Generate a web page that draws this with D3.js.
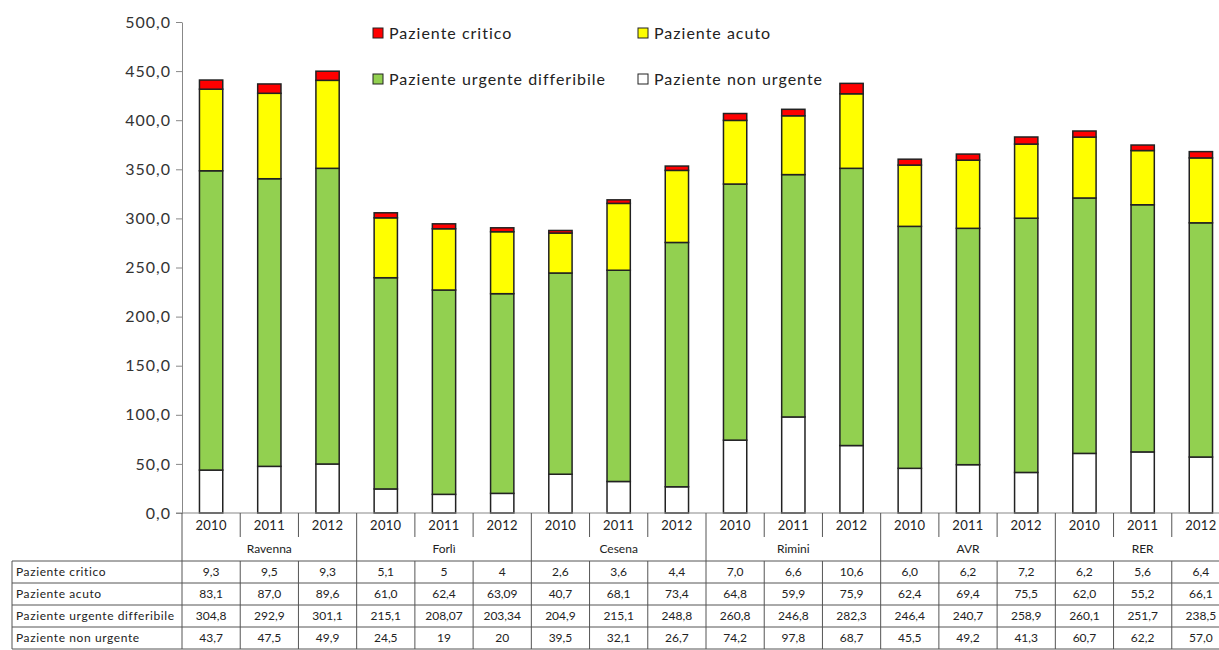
<!DOCTYPE html>
<html>
<head>
<meta charset="utf-8">
<script src="https://cdn.jsdelivr.net/npm/d3@7"></script>
<style>
  body { margin: 0; background: #fff; }
  text { font-family: Lato, "Liberation Sans", sans-serif; fill: #222; }
</style>
</head>
<body>
<div id="chart"></div>
<script>
// data, as written in the table under the chart
var regions = ["Ravenna", "Forlì", "Cesena", "Rimini", "AVR", "RER"];
var years = ["2010", "2011", "2012"];
var critico  = ["9,3","9,5","9,3", "5,1","5","4", "2,6","3,6","4,4", "7,0","6,6","10,6", "6,0","6,2","7,2", "6,2","5,6","6,4"];
var acuto    = ["83,1","87,0","89,6", "61,0","62,4","63,09", "40,7","68,1","73,4", "64,8","59,9","75,9", "62,4","69,4","75,5", "62,0","55,2","66,1"];
var urgente  = ["304,8","292,9","301,1", "215,1","208,07","203,34", "204,9","215,1","248,8", "260,8","246,8","282,3", "246,4","240,7","258,9", "260,1","251,7","238,5"];
var nonUrg   = ["43,7","47,5","49,9", "24,5","19","20", "39,5","32,1","26,7", "74,2","97,8","68,7", "45,5","49,2","41,3", "60,7","62,2","57,0"];
var yTicks = [0, 50, 100, 150, 200, 250, 300, 350, 400, 450, 500];

const W = 1219, H = 650;
const x0 = 182, x1 = 1230;  // last band runs off the page a bit, like the original
const yTop = 22, yBase = 513;

var series = [
  {name: "Paziente non urgente", vals: nonUrg, color: "#ffffff"},
  {name: "Paziente urgente differibile", vals: urgente, color: "#92d050"},
  {name: "Paziente acuto", vals: acuto, color: "#ffff00"},
  {name: "Paziente critico", vals: critico, color: "#ff0000"}
];
function num(s) { return +s.replace(",", "."); }

var cats = [];
regions.forEach(function(r) { years.forEach(function(y) { cats.push(r + "|" + y); }); });

var svg = d3.select("#chart").append("svg")
  .attr("width", W).attr("height", H);

var x = d3.scaleBand().domain(cats).range([x0, x1]).paddingInner(0).paddingOuter(0);
var y = d3.scaleLinear().domain([0, 500]).range([yBase, yTop]);
var bw = x.bandwidth();
var barW = bw * 0.4;

// stacked bars
var rows = cats.map(function(c, i) {
  var o = {cat: c};
  series.forEach(function(s) { o[s.name] = num(s.vals[i]); });
  return o;
});
var stack = d3.stack().keys(series.map(function(s) { return s.name; }))(rows);

stack.forEach(function(layer, k) {
  svg.append("g").selectAll("rect").data(layer).enter().append("rect")
    .attr("x", function(d) { return x(d.data.cat) + (bw - barW) / 2; })
    .attr("y", function(d) { return y(d[1]); })
    .attr("width", barW)
    .attr("height", function(d) { return y(d[0]) - y(d[1]); })
    .style("fill", series[k].color)
    .style("stroke", "#222")
    .style("stroke-width", 1.5);
});

// y axis
var yAxis = svg.append("g")
  .attr("transform", "translate(" + x0 + ",0)")
  .call(d3.axisLeft(y).tickValues(yTicks).tickSize(6).tickSizeOuter(0)
    .tickFormat(function(d) { return d3.format(".1f")(d).replace(".", ","); }));
yAxis.select(".domain").style("stroke", "#888");
yAxis.selectAll(".tick line").style("stroke", "#888");
yAxis.selectAll(".tick text").attr("x", -11)
  .style("font-size", "16px").style("letter-spacing", "1px").style("fill", "#333");

// x axis baseline
svg.append("line")
  .attr("x1", x0 - 6).attr("x2", W).attr("y1", yBase).attr("y2", yBase)
  .style("stroke", "#888").style("stroke-width", 1.2);

// header under the axis: years + regions
const yearRowBot = 537, tableTop = 561, rowH = 22;
cats.forEach(function(c, i) {
  var xl = x(c);
  var isGroup = (i % 3 === 0);
  svg.append("line")
    .attr("x1", xl).attr("x2", xl)
    .attr("y1", yBase).attr("y2", isGroup ? tableTop + rowH * 4 : yearRowBot)
    .style("stroke", "#555").style("stroke-width", 1);
  if (!isGroup) {
    svg.append("line")
      .attr("x1", xl).attr("x2", xl)
      .attr("y1", tableTop).attr("y2", tableTop + rowH * 4)
      .style("stroke", "#555").style("stroke-width", 1);
  }
  svg.append("text")
    .attr("x", xl + bw / 2).attr("y", 530)
    .attr("text-anchor", "middle")
    .style("font-size", "13px").style("letter-spacing", "0.3px")
    .text(c.split("|")[1]);
});
regions.forEach(function(r, g) {
  var xl = x(r + "|2010");
  svg.append("text")
    .attr("x", xl + bw * 1.5).attr("y", 553)
    .attr("text-anchor", "middle")
    .style("font-size", "12px")
    .text(r);
});

// data table
var tableRows = [series[3], series[2], series[1], series[0]];
for (var r = 0; r <= 4; r++) {
  svg.append("line")
    .attr("x1", 12).attr("x2", W)
    .attr("y1", tableTop + r * rowH).attr("y2", tableTop + r * rowH)
    .style("stroke", "#555").style("stroke-width", 1);
}
svg.append("line")
  .attr("x1", 12).attr("x2", 12)
  .attr("y1", tableTop).attr("y2", tableTop + rowH * 4)
  .style("stroke", "#555");
tableRows.forEach(function(s, r) {
  var ty = tableTop + r * rowH + 15;
  svg.append("text")
    .attr("x", 16).attr("y", ty)
    .style("font-size", "12px").style("letter-spacing", "0.6px")
    .text(s.name);
  s.vals.forEach(function(v, i) {
    svg.append("text")
      .attr("x", x(cats[i]) + bw / 2).attr("y", ty)
      .attr("text-anchor", "middle")
      .style("font-size", "12px")
      .text(v);
  });
});

// legend
var legend = [
  {s: series[3], lx: 373, ly: 33},
  {s: series[2], lx: 638, ly: 33},
  {s: series[1], lx: 373, ly: 79},
  {s: series[0], lx: 638, ly: 79}
];
legend.forEach(function(l) {
  svg.append("rect")
    .attr("x", l.lx).attr("y", l.ly - 5)
    .attr("width", 10).attr("height", 10)
    .style("fill", l.s.color).style("stroke", "#222").style("stroke-width", 1);
  svg.append("text")
    .attr("x", l.lx + 16).attr("y", l.ly + 6)
    .style("font-size", "16px").style("letter-spacing", "1px")
    .text(l.s.name);
});
</script>
</body>
</html>
